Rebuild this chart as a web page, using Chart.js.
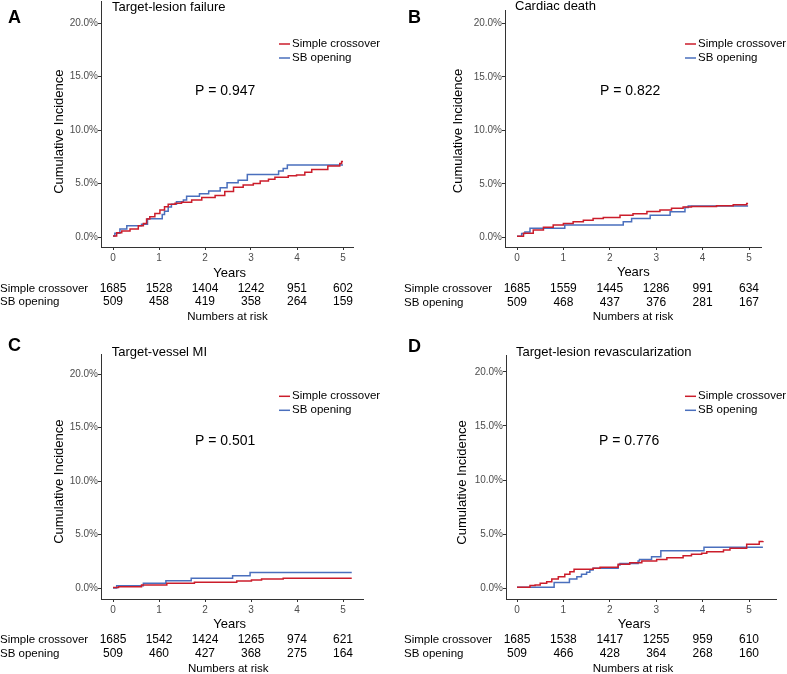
<!DOCTYPE html>
<html>
<head>
<meta charset="utf-8">
<script src="https://cdn.jsdelivr.net/npm/chart.js@4.4.1/dist/chart.umd.min.js"></script>
<style>
  body { margin: 0; background: #fff; }
  #wrap { position: relative; width: 787px; height: 674px; }
  canvas { position: absolute; }
</style>
</head>
<body>
<div id="wrap">
  <canvas id="panelA" width="400" height="330" style="left:0;top:0"></canvas>
  <canvas id="panelB" width="387" height="330" style="left:400px;top:0"></canvas>
  <canvas id="panelC" width="400" height="344" style="left:0;top:330px"></canvas>
  <canvas id="panelD" width="387" height="344" style="left:400px;top:330px"></canvas>
</div>
<script>
// tick labels and names
const yearTicks = [0, 1, 2, 3, 4, 5];
const incidenceTicks = [0, 5, 10, 15, 20];
const seriesNames = ['Simple crossover', 'SB opening'];
const panelLetters = ['A', 'B', 'C', 'D'];
const panelTitles = ['Target-lesion failure', 'Cardiac death', 'Target-vessel MI', 'Target-lesion revascularization'];
const pValues = ['0.947', '0.822', '0.501', '0.776'];

// A: target-lesion failure
const tlfCrossTime = [0, 0.08, 0.19, 0.37, 0.55, 0.66, 0.73, 0.8, 0.91, 1.02, 1.12, 1.2, 1.35, 1.49, 1.71, 1.93, 2.22, 2.43, 2.62, 2.83, 3.05, 3.2, 3.38, 3.52, 3.81, 3.99, 4.17, 4.32, 4.67, 4.93, 4.97, 5.0];
const tlfCrossInc = [0.1, 0.4, 0.56, 0.75, 1.05, 1.27, 1.68, 1.9, 2.2, 2.52, 2.83, 3.05, 3.15, 3.24, 3.46, 3.68, 3.87, 4.25, 4.65, 4.86, 5.0, 5.23, 5.4, 5.58, 5.73, 5.8, 6.05, 6.3, 6.63, 6.88, 7.05, 7.05];
const tlfOpenTime = [0, 0.04, 0.15, 0.3, 0.62, 0.75, 1.07, 1.12, 1.2, 1.27, 1.38, 1.53, 1.6, 1.88, 2.08, 2.33, 2.48, 2.72, 2.92, 3.6, 3.7, 3.79, 5.0];
const tlfOpenInc = [0.1, 0.35, 0.75, 1.05, 1.2, 1.7, 2.1, 2.4, 2.8, 3.05, 3.3, 3.45, 3.8, 4.05, 4.3, 4.6, 5.07, 5.3, 5.85, 6.17, 6.4, 6.73, 6.73];
const tlfCrossRisk = [1685, 1528, 1404, 1242, 951, 602];
const tlfOpenRisk = [509, 458, 419, 358, 264, 159];

// B: cardiac death
const cdCrossTime = [0, 0.14, 0.35, 0.57, 0.78, 1.0, 1.21, 1.43, 1.64, 1.86, 2.22, 2.5, 2.8, 3.08, 3.33, 3.58, 3.76, 4.3, 4.66, 4.95, 4.98];
const cdCrossInc = [0.1, 0.37, 0.68, 0.93, 1.14, 1.3, 1.45, 1.6, 1.76, 1.85, 2.07, 2.2, 2.4, 2.55, 2.72, 2.84, 2.88, 2.95, 3.05, 3.15, 3.15];
const cdOpenTime = [0, 0.1, 0.17, 0.28, 1.03, 2.29, 2.47, 2.87, 3.3, 3.62, 3.69, 4.98];
const cdOpenInc = [0.1, 0.35, 0.5, 0.84, 1.14, 1.45, 1.76, 2.07, 2.38, 2.78, 2.93, 2.93];
const cdCrossRisk = [1685, 1559, 1445, 1286, 991, 634];
const cdOpenRisk = [509, 468, 437, 376, 281, 167];

// C: target-vessel MI
const miCrossTime = [0, 0.12, 0.62, 1.17, 1.77, 2.69, 3.01, 3.23, 3.7, 5.19];
const miCrossInc = [0.05, 0.12, 0.28, 0.44, 0.53, 0.65, 0.75, 0.84, 0.9, 0.9];
const miOpenTime = [0, 0.08, 0.66, 1.15, 1.7, 2.6, 2.98, 5.19];
const miOpenInc = [0.0, 0.22, 0.44, 0.68, 0.9, 1.15, 1.46, 1.46];
const miCrossRisk = [1685, 1542, 1424, 1265, 974, 621];
const miOpenRisk = [509, 460, 427, 368, 275, 164];

// D: target-lesion revascularization
const tlrCrossTime = [0, 0.28, 0.39, 0.5, 0.64, 0.75, 0.89, 1.03, 1.14, 1.23, 1.64, 1.79, 2.18, 2.43, 2.69, 3.01, 3.23, 3.58, 3.76, 3.98, 4.09, 4.45, 4.59, 4.95, 5.22, 5.3];
const tlrCrossInc = [0.06, 0.22, 0.28, 0.43, 0.59, 0.84, 1.05, 1.27, 1.51, 1.73, 1.82, 1.91, 2.19, 2.34, 2.5, 2.65, 2.81, 2.99, 3.12, 3.21, 3.36, 3.52, 3.67, 4.05, 4.3, 4.35];
const tlrOpenTime = [0, 0.8, 1.13, 1.29, 1.39, 1.5, 1.57, 1.64, 2.18, 2.22, 2.61, 2.64, 2.9, 3.1, 4.03, 5.3];
const tlrOpenInc = [0.06, 0.5, 0.84, 1.05, 1.27, 1.45, 1.67, 1.82, 2.13, 2.28, 2.5, 2.65, 2.9, 3.46, 3.77, 3.77];
const tlrCrossRisk = [1685, 1538, 1417, 1255, 959, 610];
const tlrOpenRisk = [509, 466, 428, 364, 268, 160];

const CROSS_COLOR = '#cb1d2b';
const OPEN_COLOR = '#4a6fbd';
const AXIS_COLOR = '#333333';
const TICK_TEXT = '#4d4d4d';
const FONT = '"Liberation Sans", Arial, sans-serif';
const X_AXIS_H = 20;

Chart.defaults.font.family = FONT;

// per-panel placement (local canvas pixels)
const layouts = [
  { id: 'panelA', left: 101, top: 1, right: 353, bottom: 247, x0: 113, perYear: 46, y0: 237, perPct: 10.7,
    letterY: 22.7, titleX: 112, titleY: 10.7, pX: 195, pY: 95, legX: 279, legTextX: 292, legY: 44,
    yTitleX: 59, yTitleY: 131.7, yearsX: 229.7, yearsY: 276.7, riskX: 0, row1: 291.5, row2: 305, narX: 227.5, narY: 320 },
  { id: 'panelB', left: 105, top: 10, right: 361, bottom: 247, x0: 117, perYear: 46.4, y0: 237.3, perPct: 10.7,
    letterY: 22.7, titleX: 115, titleY: 9.7, pX: 200, pY: 95, legX: 285, legTextX: 298, legY: 44,
    yTitleX: 58.7, yTitleY: 131, yearsX: 233.3, yearsY: 276, riskX: 4, row1: 291.7, row2: 305.5, narX: 233, narY: 319.5 },
  { id: 'panelC', left: 101, top: 24, right: 363, bottom: 269, x0: 113, perYear: 46, y0: 258, perPct: 10.7,
    letterY: 20.7, titleX: 111.7, titleY: 26, pX: 195, pY: 115, legX: 279, legTextX: 292, legY: 66.3,
    yTitleX: 59, yTitleY: 151.7, yearsX: 229.7, yearsY: 298.3, riskX: 0, row1: 313.3, row2: 327.3, narX: 228.3, narY: 341.7 },
  { id: 'panelD', left: 106, top: 25, right: 376, bottom: 269, x0: 117, perYear: 46.4, y0: 258, perPct: 10.8,
    letterY: 21.7, titleX: 116, titleY: 26, pX: 199, pY: 115, legX: 285, legTextX: 298, legY: 66.3,
    yTitleX: 62, yTitleY: 152.5, yearsX: 234.2, yearsY: 297.7, riskX: 4, row1: 313.3, row2: 326.7, narX: 233, narY: 341.7 }
];

const panelData = [
  { cross: [tlfCrossTime, tlfCrossInc], open: [tlfOpenTime, tlfOpenInc], risk: [tlfCrossRisk, tlfOpenRisk] },
  { cross: [cdCrossTime, cdCrossInc], open: [cdOpenTime, cdOpenInc], risk: [cdCrossRisk, cdOpenRisk] },
  { cross: [miCrossTime, miCrossInc], open: [miOpenTime, miOpenInc], risk: [miCrossRisk, miOpenRisk] },
  { cross: [tlrCrossTime, tlrCrossInc], open: [tlrOpenTime, tlrOpenInc], risk: [tlrCrossRisk, tlrOpenRisk] }
];

function toPoints(times, values) {
  return times.map((t, i) => ({ x: t, y: values[i] }));
}

// draws titles, legend, p-value and the numbers-at-risk table
const panelText = {
  id: 'panelText',
  afterDraw(chart, args, o) {
    const ctx = chart.ctx;
    const L = o.layout;
    const xs = chart.scales.x;
    ctx.save();
    ctx.fillStyle = '#000';
    ctx.textBaseline = 'alphabetic';
    ctx.textAlign = 'left';

    ctx.font = 'bold 18px ' + FONT;
    ctx.fillText(o.letter, 8, L.letterY);

    ctx.font = '13px ' + FONT;
    ctx.fillText(o.title, L.titleX, L.titleY);

    ctx.font = '14px ' + FONT;
    ctx.fillText('P = ' + o.p, L.pX, L.pY);

    // legend
    [CROSS_COLOR, OPEN_COLOR].forEach((c, i) => {
      const y = L.legY + i * 14;
      ctx.strokeStyle = c;
      ctx.lineWidth = 1.5;
      ctx.beginPath();
      ctx.moveTo(L.legX, y);
      ctx.lineTo(L.legX + 11, y);
      ctx.stroke();
      ctx.font = '11.5px ' + FONT;
      ctx.textBaseline = 'middle';
      ctx.fillText(seriesNames[i], L.legTextX, y);
    });
    ctx.textBaseline = 'alphabetic';

    // axis titles
    ctx.save();
    ctx.translate(L.yTitleX, L.yTitleY);
    ctx.rotate(-Math.PI / 2);
    ctx.textAlign = 'center';
    ctx.textBaseline = 'middle';
    ctx.font = '13px ' + FONT;
    ctx.fillText('Cumulative Incidence', 0, 0);
    ctx.restore();

    ctx.textAlign = 'center';
    ctx.font = '13px ' + FONT;
    ctx.fillText('Years', L.yearsX, L.yearsY);

    // numbers at risk
    ctx.font = '11.5px ' + FONT;
    ctx.textAlign = 'left';
    ctx.fillText(seriesNames[0], L.riskX, L.row1);
    ctx.fillText(seriesNames[1], L.riskX, L.row2);
    ctx.textAlign = 'center';
    ctx.fillText('Numbers at risk', L.narX, L.narY);
    ctx.font = '12px ' + FONT;
    yearTicks.forEach((yr, i) => {
      const px = xs.getPixelForValue(yr);
      ctx.fillText(String(o.risk[0][i]), px, L.row1);
      ctx.fillText(String(o.risk[1][i]), px, L.row2);
    });
    ctx.restore();
  }
};

layouts.forEach((L, k) => {
  const canvas = document.getElementById(L.id);
  const W = canvas.width, H = canvas.height;
  const d = panelData[k];

  new Chart(canvas, {
    type: 'line',
    data: {
      datasets: [
        { label: seriesNames[0], data: toPoints(d.cross[0], d.cross[1]), borderColor: CROSS_COLOR },
        { label: seriesNames[1], data: toPoints(d.open[0], d.open[1]), borderColor: OPEN_COLOR }
      ].map(ds => Object.assign(ds, { stepped: 'before', borderWidth: 1.5, pointRadius: 0, fill: false }))
    },
    options: {
      responsive: false,
      animation: false,
      layout: { padding: { left: 0, top: L.top, right: W - L.right, bottom: H - L.bottom - X_AXIS_H } },
      plugins: {
        legend: { display: false },
        tooltip: { enabled: false },
        panelText: { layout: L, letter: panelLetters[k], title: panelTitles[k], p: pValues[k], risk: d.risk }
      },
      scales: {
        x: {
          type: 'linear',
          min: (L.left - L.x0) / L.perYear,
          max: (L.right - L.x0) / L.perYear,
          afterBuildTicks: s => { s.ticks = yearTicks.map(v => ({ value: v })); },
          afterFit: s => { s.height = X_AXIS_H; s.paddingLeft = 0; s.paddingRight = 0; },
          grid: { drawOnChartArea: false, drawTicks: true, tickLength: 3, color: AXIS_COLOR },
          border: { display: true, color: AXIS_COLOR, width: 1 },
          ticks: { autoSkip: false, maxRotation: 0, padding: 2, color: TICK_TEXT, font: { size: 10 }, callback: v => String(v) }
        },
        y: {
          type: 'linear',
          min: (L.y0 - L.bottom) / L.perPct,
          max: (L.y0 - L.top) / L.perPct,
          afterBuildTicks: s => { s.ticks = incidenceTicks.map(v => ({ value: v })); },
          afterFit: s => { s.width = L.left; s.paddingTop = 0; s.paddingBottom = 0; },
          grid: { drawOnChartArea: false, drawTicks: true, tickLength: 3, color: AXIS_COLOR },
          border: { display: true, color: AXIS_COLOR, width: 1 },
          ticks: { autoSkip: false, padding: 0, color: TICK_TEXT, font: { size: 10 }, callback: v => v.toFixed(1) + '%' }
        }
      }
    },
    plugins: [panelText]
  });
});
</script>
</body>
</html>
